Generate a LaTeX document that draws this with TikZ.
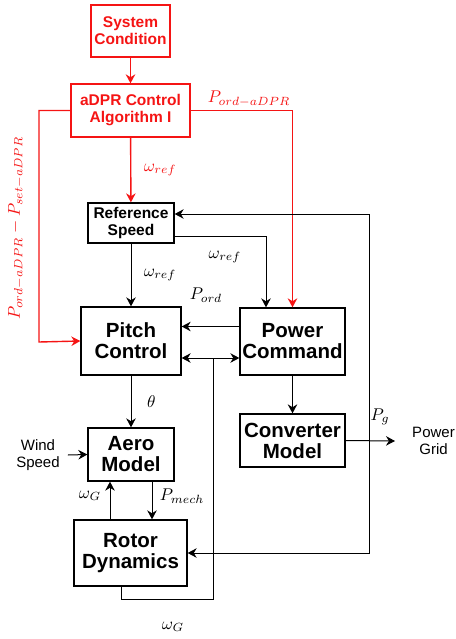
\documentclass[tikz,border=0pt]{standalone}
\usepackage{fontspec}
\usepackage{amsmath}
\usepackage{xcolor}
\usepackage{tikz}
\usetikzlibrary{arrows.meta}
\newfontfamily\arialfont{Liberation Sans}
\definecolor{ctrlred}{RGB}{245,20,20}

\begin{document}
\begin{tikzpicture}[x=1pt, y=-1pt,
  >={Stealth[length=9pt,width=9.5pt]},
  blk/.style={draw, rectangle, line width=1.3pt, inner sep=0pt, align=center,
    font=\arialfont\bfseries\fontsize{20.5}{21}\selectfont},
  smallblk/.style={blk, font=\arialfont\bfseries\fontsize{15.5}{17}\selectfont},
  redblk/.style={smallblk, draw=ctrlred, text=ctrlred},
  sig/.style={->, line width=1pt},
  redsig/.style={->, line width=1.4pt, ctrlred},
  lbl/.style={inner sep=0pt, scale=1.7},
  txt/.style={inner sep=0pt, align=center, font=\arialfont\fontsize{15}{17}\selectfont}]
\useasboundingbox (0,0) rectangle (455,639);

% control blocks
\node[redblk, minimum width=79pt, minimum height=52pt] (sys) at (130.5,31) {System\\Condition};
\node[redblk, minimum width=119pt, minimum height=53pt] (adpr) at (130.5,110.5) {aDPR Control\\Algorithm I};
\node[smallblk, minimum width=86pt, minimum height=40pt] (refspd) at (131,223) {Reference\\Speed};
\node[blk, minimum width=100pt, minimum height=68pt] (pitch) at (131,341) {Pitch\\Control};
\node[blk, minimum width=105pt, minimum height=67pt] (power) at (292.5,341.5) {Power\\Command};
\node[blk, minimum width=86pt, minimum height=53pt] (aero) at (131,454.5) {Aero\\Model};
\node[blk, minimum width=105pt, minimum height=53pt] (conv) at (292.5,440.5) {Converter\\Model};
\node[blk, minimum width=113pt, minimum height=66pt] (rotor) at (130.5,553) {Rotor\\Dynamics};

% inputs and outputs
\node[txt] (wind) at (38,455) {Wind\\Speed};
\node[txt] (grid) at (433.5,441) {Power\\Grid};
\coordinate (gridin) at (395,441);
\coordinate (lft) at (39,342);
\coordinate (jn) at (213,358);
\coordinate (wg) at (213,599);
\coordinate (pg) at (369,441);

% red paths
\draw[redsig] (sys) -- (adpr);
\draw[redsig] (adpr) -- node[lbl, text=ctrlred, right=7pt] {$\omega_{ref}$} (refspd);
\draw[redsig] (adpr.west) -| (lft) -- (pitch.west);
\draw[redsig] (adpr.east) -| (power.north);
\node[lbl, text=ctrlred] (pordadpr) at (249,99) {$P_{ord-aDPR}$};
\node[lbl, text=ctrlred, rotate=90] (pdiff) at (16,228) {$P_{ord-aDPR}-P_{set-aDPR}$};

% black paths
\draw[sig] (refspd) -- node[lbl, right=7pt] {$\omega_{ref}$} (pitch);
\draw[sig] ([yshift=-13pt]refspd.east) -| ([xshift=-26.5pt]power.north);
\node[lbl] (wref) at (225,257) {$\omega_{ref}$};
\draw[sig] ([yshift=15pt]power.west) -- ([yshift=15pt]power.west -| pitch.east);
\node[lbl] (pord) at (206,295) {$P_{ord}$};
\draw[sig, <->] ([yshift=-17pt]pitch.east) -- ([yshift=-17pt]pitch.east -| power.west);
\draw[line width=1pt] ([xshift=-9.5pt]rotor.south) |- (wg) -- (jn);
\node[lbl] (wgb) at (173,627) {$\omega_G$};
\draw[sig] (pitch) -- node[lbl, right=9pt] {$\theta$} (aero);
\draw[sig] ([xshift=-20pt]wind.east) ++(28pt,0) -- (aero.west);
\draw[sig] ([xshift=21pt]aero.south) -- ([xshift=21pt]aero.south |- rotor.north);
\node[lbl] (pmech) at (182,496) {$P_{mech}$};
\draw[sig] ([xshift=-20.5pt]rotor.north) -- ([xshift=-20.5pt]rotor.north |- aero.south);
\node[lbl] (wga) at (90,496) {$\omega_G$};
\draw[sig] (power) -- (conv);
\draw[sig] (conv.east) -- (gridin);
\draw[sig] (pg) |- ([yshift=9pt]refspd.east);
\draw[sig] (pg) |- (rotor.east);
\node[lbl] (pgl) at (380,417) {$P_g$};
\end{tikzpicture}
\end{document}
